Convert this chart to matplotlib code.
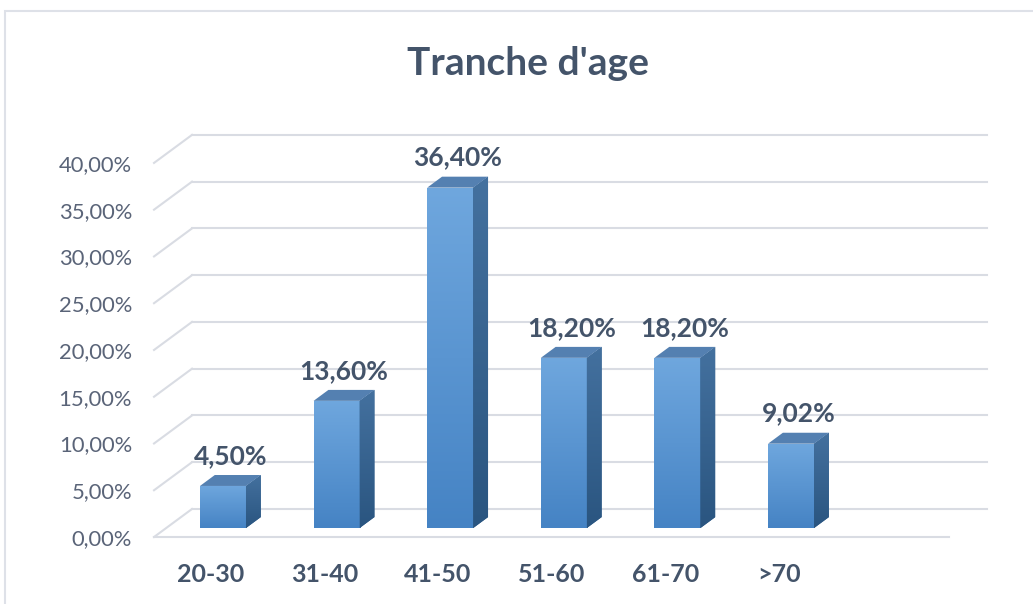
import numpy as np
import matplotlib.pyplot as plt
from matplotlib.patches import Polygon, Rectangle
from matplotlib.colors import LinearSegmentedColormap

plt.rcParams["font.family"] = ["Lato", "DejaVu Sans"]

categories = ["20-30", "31-40", "41-50", "51-60", "61-70", ">70"]
values = [4.50, 13.60, 36.40, 18.20, 18.20, 9.02]
yticks = [0, 5, 10, 15, 20, 25, 30, 35, 40]

TEXT = "#44546A"
GRID = "#D9DCE3"

# oblique depth of the plot box, in data units
DX, DY = 0.3345, 3.0
# bars sit in a slice of that depth
D0, D1 = 0.32, 0.71
W = 0.405

fig = plt.figure(figsize=(10.33, 6.04), dpi=100)
ax = fig.add_axes([0.1491, 0.1109, 0.8073, 0.6689])
ax.set_xlim(-0.5, 6.84)
ax.set_ylim(0, 43.2)
for s in ax.spines.values():
    s.set_visible(False)
ax.patch.set_alpha(0)

# chart frame
fig.add_artist(Rectangle((5 / 1033, -0.1), 1.2, 1 - 11 / 604 + 0.1,
                         transform=fig.transFigure, fill=False,
                         edgecolor="#DEE1E8", lw=1.5))

# back wall gridlines and left wall diagonals
x0, x1 = -0.5, 6.5
for v in yticks:
    ax.plot([x0 + DX, x1 + DX], [v + DY, v + DY], color=GRID, lw=1.5,
            zorder=1, clip_on=False)
    ax.plot([x0, x0 + DX], [v, v + DY], color=GRID, lw=1.5, zorder=1,
            clip_on=False)
ax.plot([x0, x1], [0, 0], color=GRID, lw=1.5, zorder=1, clip_on=False)

front_cmap = LinearSegmentedColormap.from_list("front", ["#4583C4", "#6FA7DE"])
side_cmap = LinearSegmentedColormap.from_list("side", ["#2A5580", "#44719F"])
grad = np.linspace(0, 1, 256).reshape(-1, 1)

xs = np.arange(len(values))
bx = xs + D0 * DX
by = D0 * DY
bars = ax.bar(bx, values, width=W, bottom=by, color="#5B95D3", zorder=3,
              linewidth=0)

ddx, ddy = (D1 - D0) * DX, (D1 - D0) * DY
for rect, xc, v in zip(bars, bx, values):
    left, right = xc - W / 2, xc + W / 2
    top = by + v
    img = ax.imshow(grad, cmap=front_cmap, origin="lower", aspect="auto",
                    extent=[left, right, by, top], zorder=3)
    img.set_clip_path(rect)
    side = Polygon([(right, by), (right + ddx, by + ddy),
                    (right + ddx, top + ddy), (right, top)], closed=True,
                   facecolor="#34628F", edgecolor="none", zorder=3)
    ax.add_patch(side)
    img2 = ax.imshow(grad, cmap=side_cmap, origin="lower", aspect="auto",
                     extent=[right, right + ddx, by, top + ddy], zorder=3)
    img2.set_clip_path(side)
    ax.add_patch(Polygon([(left, top), (right, top), (right + ddx, top + ddy),
                          (left + ddx, top + ddy)], closed=True,
                         facecolor="#5480B1", edgecolor="none", zorder=4))
    ax.annotate(f"{v:.2f}%".replace(".", ","), (xc + ddx / 2, top + ddy),
                xytext=(0, 8), textcoords="offset points", ha="center",
                va="baseline", fontsize=19, fontweight="bold", color=TEXT,
                zorder=5)

ax.set_xlim(-0.5, 6.84)
ax.set_ylim(0, 43.2)

ax.set_yticks(yticks, [f"{v:.2f}%".replace(".", ",") for v in yticks])
ax.set_xticks(xs, categories)
ax.tick_params(axis="y", length=0, pad=15.8, labelsize=15.8,
               labelcolor="#5A6478")
ax.tick_params(axis="x", length=0, pad=19, labelsize=18)
for lab in ax.get_xticklabels():
    lab.set_fontweight("bold")
    lab.set_color(TEXT)

fig.text(528 / 1033, 1 - 75 / 604, "Tranche d'age", ha="center",
         va="baseline", fontsize=28, fontweight="bold", color=TEXT)

fig.savefig("out.png", dpi=100)
